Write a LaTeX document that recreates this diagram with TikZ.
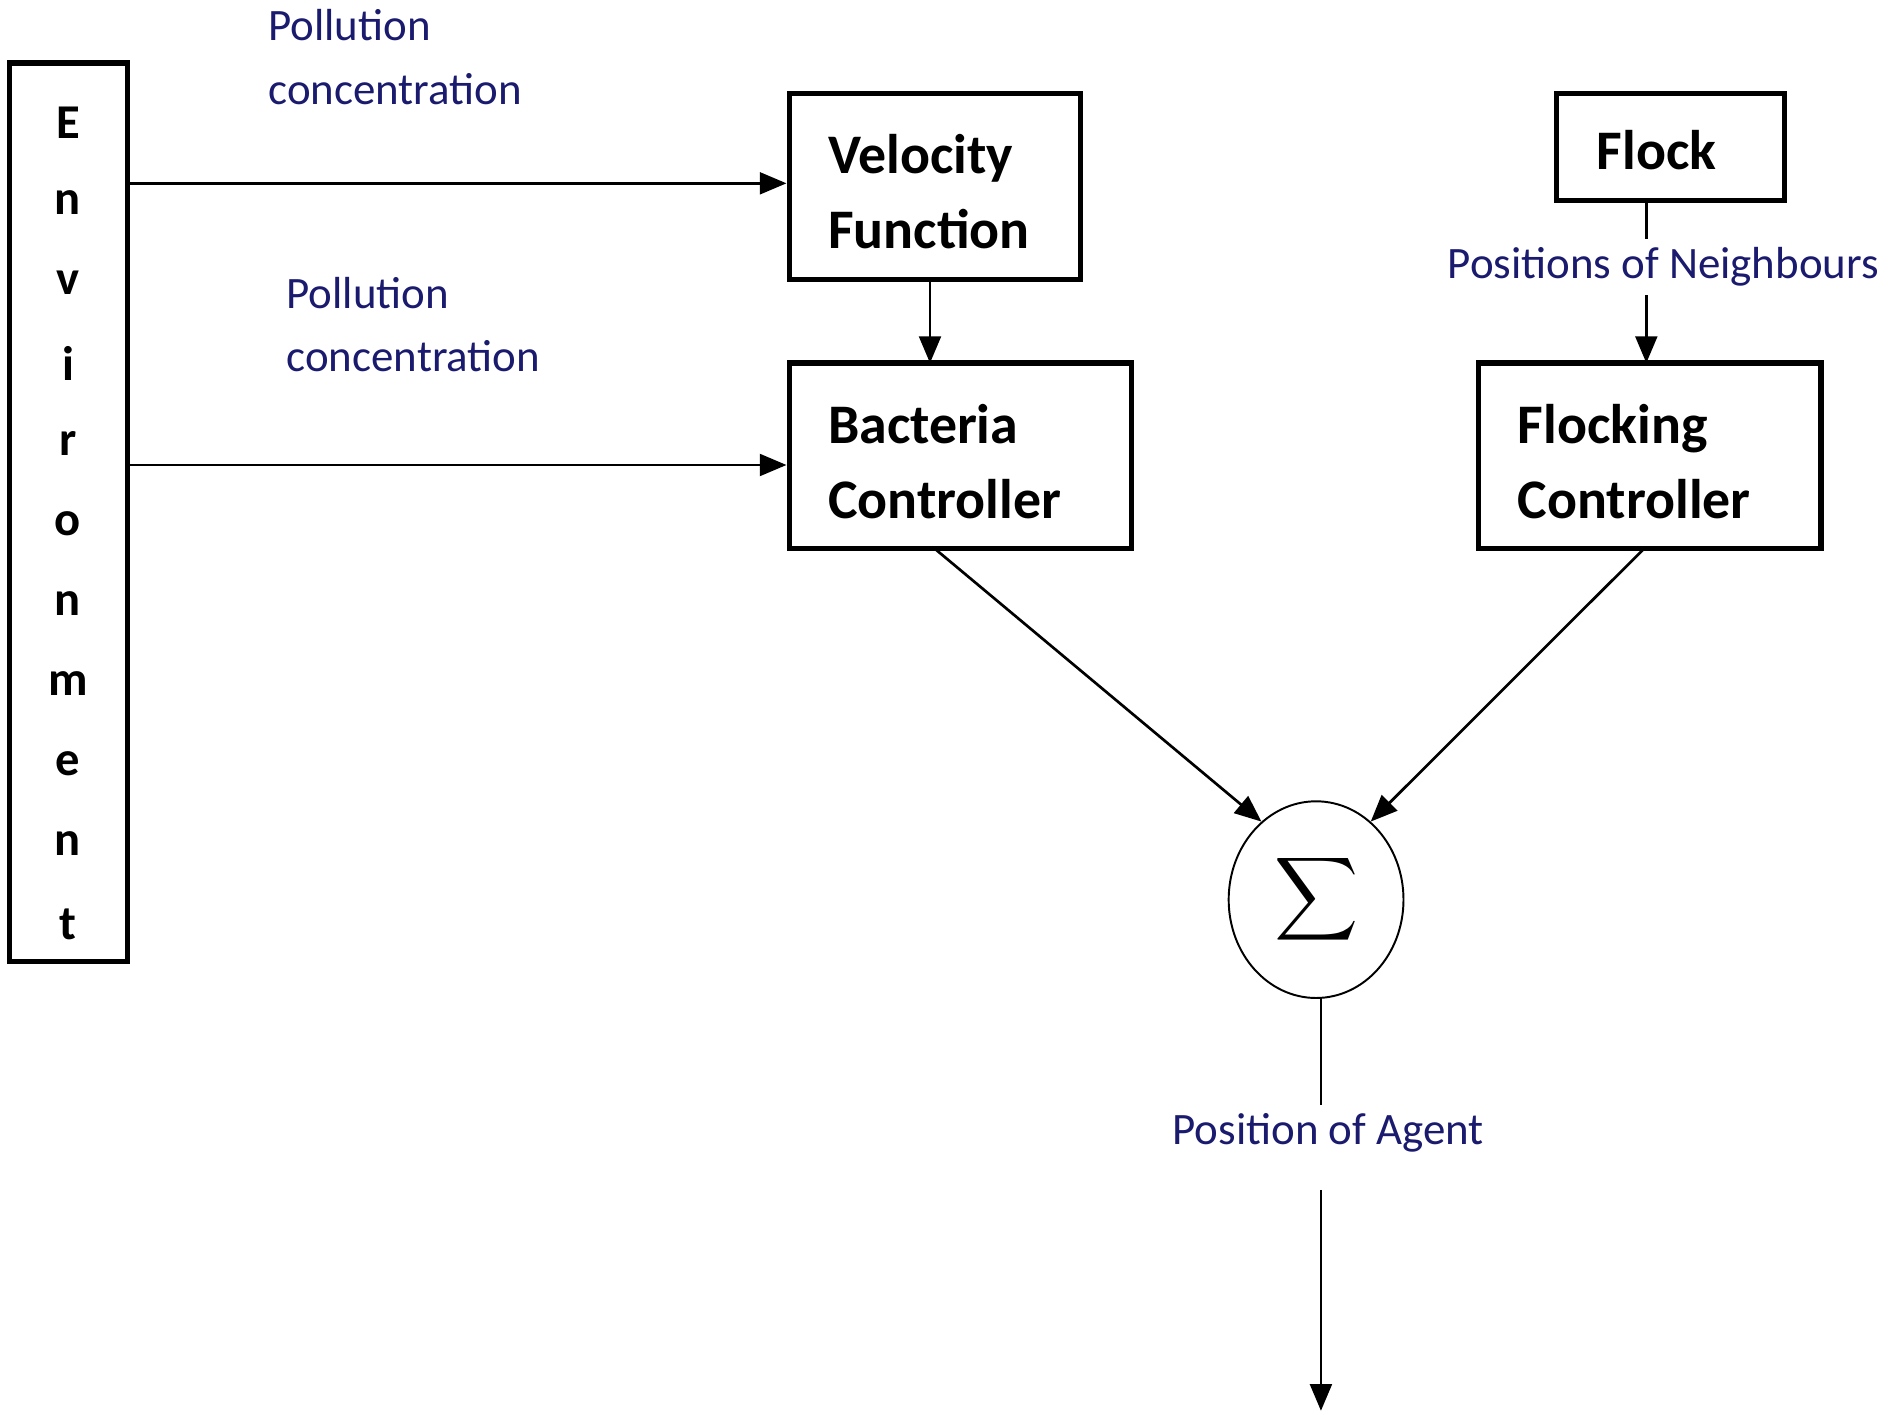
\documentclass[tikz,border=0pt]{standalone}
\usepackage{fontspec}
\usepackage{graphicx}
\setmainfont{Carlito}
\usetikzlibrary{arrows.meta,shapes.geometric}
\definecolor{lab}{HTML}{1A1A6E}
\begin{document}
\begin{tikzpicture}[x=0.5pt,y=-0.5pt,
  box/.style={draw,line width=2.2pt,inner sep=0},
  btxt/.style={font=\fontsize{23}{31}\selectfont\bfseries,align=left,anchor=west},
  lbl/.style={text=lab,font=\fontsize{18.5}{26}\selectfont,align=left,anchor=west},
  arr/.style={line width=1.1pt,-{Triangle[length=11pt,width=9pt]}},
  ln/.style={line width=1.1pt}]
\useasboundingbox (0,0) rectangle (1560,1165);
\draw[box] (8,52) rectangle (105,792);
\node (env) at (56,422) {};
\foreach \c [count=\i] in {E,n,v,i,r,o,n,m,e,n,t}
  \node[font=\fontsize{20}{20}\selectfont\bfseries] (e\i) at (56,101+66*\i-66) {\c};
\node[box,minimum width=120pt,minimum height=76.5pt] (vf) at (770,153.5) {};
\node[btxt] (vft) at (675,158) {Velocity\\Function};
\node[box,minimum width=141pt,minimum height=76.5pt] (bc) at (791,375.5) {};
\node[btxt] (bct) at (675,380) {Bacteria\\Controller};
\node[box,minimum width=94pt,minimum height=44pt] (fl) at (1376,121) {};
\node[btxt] (flt) at (1308,124) {Flock};
\node[box,minimum width=141pt,minimum height=76.5pt] (fc) at (1359,375.5) {};
\node[btxt] (fct) at (1243,380) {Flocking\\Controller};
\node[draw,ellipse,line width=0.8pt,minimum width=72pt,minimum height=81pt,inner sep=0] (sum) at (1084,741) {\scalebox{2.4}{$\displaystyle\sum$}};
\node[lbl] (p1) at (214,47) {Pollution\\concentration};
\node[lbl] (p2) at (229,267) {Pollution\\concentration};
\node[lbl,anchor=center] (pn) at (1370,220) {Positions of Neighbours};
\node[lbl,anchor=center] (pa) at (1094,933) {Position of Agent};
\coordinate (a1) at (105,151); \coordinate (a2) at (105,383);
\draw[arr] (a1) -- (vf.west|-a1);
\draw[arr] (a2) -- (bc.west|-a2);
\draw[arr] (766,230) -- (766,299);
\draw[ln] (1356,165) -- (pn.north-|1356,0);
\draw[arr] (pn.south-|1356,0) -- (1356,299);
\draw[arr] (770,452) -- (sum.125);
\draw[arr] (1354,452) -- (sum.55);
\draw[ln] (1088,822) -- (pa.north-|1088,0);
\coordinate (out) at (1088,1162);
\draw[arr] (1088,980) -- (out);
\end{tikzpicture}
\end{document}
